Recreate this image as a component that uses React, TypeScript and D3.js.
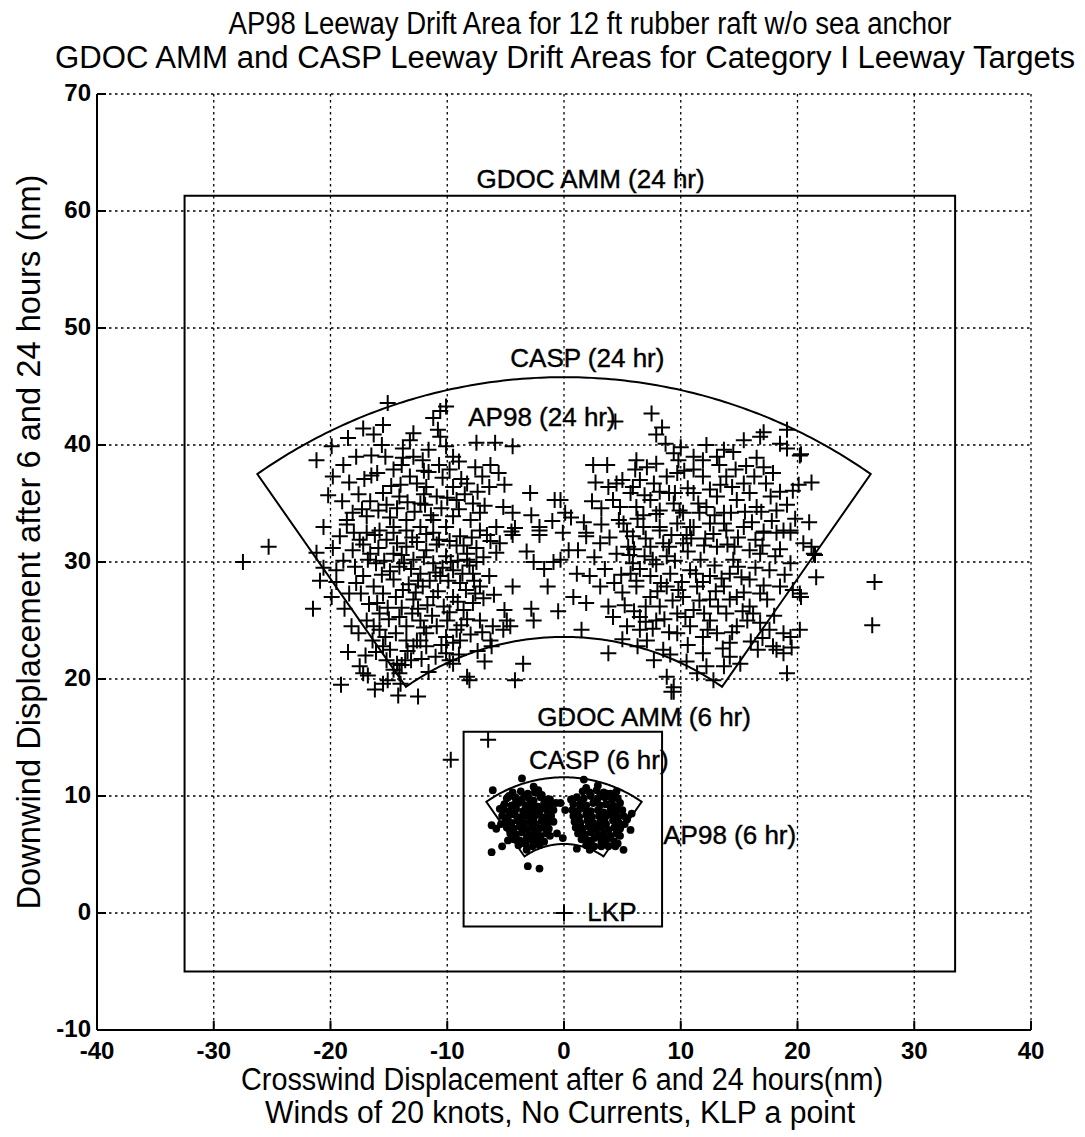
import React from 'react';
import * as d3 from 'd3';

const W = 1085;
const H = 1137;
const X_DOMAIN: [number, number] = [-40, 40];
const Y_DOMAIN: [number, number] = [-10, 70];
const X_TICKS = [-40, -30, -20, -10, 0, 10, 20, 30, 40];
const Y_TICKS = [-10, 0, 10, 20, 30, 40, 50, 60, 70];

const TITLE_1 = 'AP98 Leeway Drift Area for 12 ft rubber raft w/o sea anchor';
const TITLE_2 = 'GDOC AMM and CASP Leeway Drift Areas for Category I Leeway Targets';
const X_LABEL_1 = 'Crosswind Displacement after 6 and 24 hours(nm)';
const X_LABEL_2 = 'Winds of 20 knots, No Currents, KLP a point';
const Y_LABEL = 'Downwind Displacement after 6 and 24 hours (nm)';

// GDOC AMM rectangles [x0, x1, y0, y1]
const GDOC_24 = [-32.5, 33.5, -5, 61.3];
const GDOC_6 = [-8.6, 8.4, -1.15, 15.5];
// CASP annular sectors [inner radius, outer radius, half angle deg]
const CASP_24 = [23.6, 45.8, 35];
const CASP_6 = [5.9, 11.6, 35];

const LKP: [number, number] = [0, 0];

// AP98 24 hr drift positions (crosswind, downwind)
const AP98_24: [number, number][] = [
  [-15.1,43.6],[-15.5,41.7],[-17.2,41.4],[-16.3,40.9],[-15.6,40.0],[-12.9,41.0],[-13.2,40.4],[-11.2,42.3],[-10.6,42.9],[-10.1,43.3],
  [-10.8,41.3],[-10.6,40.7],[-10.1,39.9],[-13.8,39.7],[-19.9,39.9],[-21.2,38.7],[-18.9,38.3],[-16.5,39.1],[-13.8,38.9],[-12.9,39.0],
  [-12.1,38.7],[-16.5,37.4],[-16.0,37.6],[-14.6,37.9],[-13.9,38.3],[-11.6,37.7],[-9.8,37.9],[-8.3,36.7],[-7.6,38.1],[-7.5,40.2],
  [-5.9,40.2],[-4.4,39.9],[-6.3,38.3],[-5.6,37.6],[-5.1,36.6],[-2.9,35.9],[-0.8,35.3],[-20.2,35.7],[-18.6,33.6],[-18.1,34.2],
  [-16.9,33.9],[-15.5,35.9],[-15.2,34.9],[-14.1,35.6],[-12.6,36.7],[-11.8,36.4],[-12.3,35.0],[-10.9,35.6],[-9.5,36.4],[-9.2,35.3],
  [-7.8,35.0],[-7.2,34.2],[-5.2,34.7],[-4.4,34.2],[-2.8,34.0],[-2.1,32.7],[-4.5,32.6],[-5.8,33.0],[-13.5,33.6],[-11.2,33.6],
  [-9.5,33.9],[-14.6,33.0],
  [-25.3,31.3],[-27.5,30.0],[-21.5,26.0],[-20.6,29.5],[-19.5,29.3],[-19.5,28.3],[-18.8,26.0],[-18.2,24.5],[-17.6,23.9],[-16.3,24.5],
  [-17.8,28.2],[-18.1,31.0],[-17.5,31.9],[-18.6,33.2],[-19.2,32.2],[-16.0,26.5],[-15.8,25.6],[-16.9,25.0],[-15.5,22.8],[-14.9,22.5],
  [-15.2,21.6],[-14.3,21.3],[-14.6,20.8],[-13.9,21.2],[-13.6,21.6],[-13.1,21.6],[-12.9,22.8],[-12.6,23.3],[-17.5,21.1],[-17.2,20.5],
  [-16.8,20.3],[-19.1,19.5],[-16.2,19.1],[-15.5,19.6],[-15.1,19.9],[-14.2,18.6],[-12.5,18.5],[-14.1,20.5],[-9.8,21.6],[-9.5,21.3],
  [-10.1,22.2],[-8.3,20.2],[-8.1,19.9],[-6.8,21.5],[-6.3,23.3],[-6.2,22.8],[-4.2,19.9],[-3.5,21.3],[-2.8,26.0],[-2.6,25.0],
  [-1.4,27.9],[-0.9,30.0],[-3.2,30.9],[-2.6,30.0],[-4.4,27.9],[-4.2,32.9],[-4.4,32.3],[-2.1,33.0],[-2.1,32.3],[-5.5,31.6],
  [-5.8,30.8],[-5.1,25.9],[-4.9,25.0],[-4.6,24.5],[-6.1,24.5],[-5.2,24.2],[-7.2,32.7],[-6.6,32.3],
  [-17.2,31.5],[-16.6,30.7],[-16.1,29.9],[-15.2,31.9],[-14.6,30.7],[-14.1,29.6],[-13.5,31.3],[-12.9,30.2],[-12.3,29.0],[-11.8,31.0],
  [-11.2,29.9],[-10.6,28.8],[-10.1,30.5],[-9.5,29.3],[-8.9,28.2],[-8.3,30.2],[-7.8,29.0],[-7.2,27.9],[-17.2,28.8],[-16.3,27.9],
  [-15.5,27.3],[-14.6,28.5],[-13.8,27.6],[-12.9,26.8],[-12.1,27.9],[-11.2,27.0],[-10.3,26.2],[-9.5,27.0],[-8.6,25.9],[-7.8,26.5],
  [-7.2,25.0],[-15.8,24.2],[-14.1,25.3],[-13.5,24.5],[-12.3,25.0],[-11.8,23.9],[-10.9,24.5],[-10.1,23.6],[-9.2,24.2],[-12.3,23.3],
  [-13.5,23.3],[-11.8,22.8],[-9.5,23.1],[-8.9,23.3],[-8.3,30.7],[-12.3,33.0],[-11.2,32.5],[-10.1,33.0],[-8.9,32.2],[-13.5,32.7],
  [-14.6,32.5],[-15.8,32.7],[-16.9,32.5],
  [-16.6,35.2],[-15.9,34.4],[-14.9,33.8],[-14.3,34.6],[-13.4,35.1],[-12.8,34.3],[-11.9,34.9],[-11.4,34.0],[-10.5,34.6],[-10.0,35.5],
  [-9.0,34.5],[-8.5,35.8],[-8.0,33.6],[-7.4,36.0],[-6.8,34.8],[-6.4,36.4],
  [-16.8,30.2],[-15.9,31.2],[-15.4,30.1],[-14.3,31.6],[-13.9,30.6],[-13.1,29.4],[-12.6,31.7],[-12.0,30.4],[-11.5,28.4],[-10.9,31.5],
  [-10.4,29.5],[-9.8,31.8],[-9.1,30.1],[-8.6,31.4],[-8.1,29.7],[-7.5,31.2],[-6.9,30.4],[-6.3,31.8],
  [-17.9,29.6],[-17.4,27.3],[-16.7,26.4],[-15.1,26.1],[-14.4,27.0],[-13.3,28.1],[-12.7,27.4],[-11.7,26.3],[-10.8,27.5],[-9.9,28.4],
  [-9.1,26.6],[-8.4,27.6],[-7.7,28.4],[-6.9,26.9],[-6.4,28.8],[-6.0,27.2],
  [-16.4,23.3],[-15.3,23.6],[-14.4,23.9],[-13.0,25.6],[-12.0,24.4],[-11.3,25.4],[-10.5,22.9],[-9.8,25.7],[-8.8,24.6],[-8.0,23.8],
  [-7.4,22.4],[-7.0,24.0],[-11.0,21.9],[-12.2,21.7],[-13.4,22.4],
  [-18.4,36.8],[-17.6,35.8],[-17.1,37.1],[-14.0,36.6],[-13.2,37.3],[-10.4,37.2],[-9.0,38.6],[-8.8,37.1],[-7.0,37.3],[-11.6,39.6],
  [-9.5,39.0],[-17.8,39.0],[-18.5,40.6],[-19.8,37.3],[-20.6,33.0],[-21.2,30.8],[-19.8,31.2],[-18.9,30.1],[-18.4,27.3],[-19.9,27.0],
  [-20.9,28.4],[-17.0,22.0],[-18.5,22.3],
  [-15.6,28.9],[-14.9,29.2],[-13.7,29.9],[-12.5,28.4],[-11.0,29.1],[-9.7,30.0],[-8.7,29.0],[-7.5,30.0],[-16.2,32.3],[-13.0,32.1],
  [-11.8,32.4],[-10.7,31.9],[-9.2,31.4],[-7.9,32.1],[-15.0,25.1],[-13.9,26.1],[-12.5,26.0],[-10.0,25.0],[-8.3,25.1],[-7.6,27.3],
  [-14.8,36.5],[-12.0,37.8],[-10.7,38.3],[-15.3,39.0],[-17.3,34.5],[-18.0,32.5],[-19.0,35.2],[-16.1,22.3],[-14.0,19.6],[-11.6,20.6],
  [-9.0,22.1],[-12.0,35.8],
  [7.5,42.7],[4.4,42.0],[7.9,40.9],[8.7,40.1],[9.4,39.3],[9.8,38.7],[11.1,39.0],[11.9,38.7],[13.1,39.0],[13.7,39.6],
  [17.1,41.1],[16.8,40.7],[18.5,40.1],[19.1,39.7],[20.2,39.1],[16.5,38.9],[17.1,38.1],[17.9,37.6],[20.1,36.6],[2.5,38.3],
  [3.7,38.3],[6.2,38.7],[6.1,37.9],[7.1,38.1],[7.9,38.4],[6.5,37.0],[7.7,36.7],[8.8,37.3],[9.7,37.6],[11.1,37.9],
  [11.9,37.3],[13.9,37.3],[14.7,37.9],[15.4,36.7],[3.8,36.4],[4.5,36.7],[5.7,35.9],[2.4,35.2],[4.2,35.3],[4.8,34.7],
  [6.2,34.7],[7.4,35.3],[8.2,34.4],[9.4,35.0],[10.2,34.2],[11.1,35.9],[12.2,34.7],[13.1,35.6],[13.7,34.2],[14.8,35.3],
  [15.9,35.9],[16.5,34.7],[17.7,35.6],[18.2,34.4],[-0.3,35.3],[0.1,34.2],[1.7,33.4],[1.9,32.5],[-0.1,32.5],[5.4,32.6],
  [6.8,33.0],[8.2,32.7],[9.7,33.3],[11.1,33.0],[12.5,33.3],[13.9,32.7],[15.4,33.0],[17.1,32.6],[18.8,32.7],[19.4,32.5],
  [26.6,28.3],[26.4,24.6],[1.9,32.2],[3.1,31.6],[-0.3,30.2],[1.1,29.0],[2.2,28.8],[3.1,27.9],[1.9,26.5],[3.8,26.2],
  [4.2,25.3],[5.4,24.5],[6.5,24.2],[7.1,23.3],[7.7,21.6],[8.5,22.5],[9.7,23.9],[8.8,20.2],[9.4,18.9],[3.8,22.2],
  [11.4,20.5],[12.2,21.1],[12.8,19.9],[13.7,21.1],[11.9,22.2],[13.1,23.9],[14.2,21.9],[15.1,21.3],[14.2,23.1],[15.7,25.0],
  [16.8,24.8],[17.6,24.2],[18.8,23.9],[20.2,24.2],[19.4,23.6],[18.2,22.5],[19.1,20.5],[18.8,22.2],[17.9,22.8],[5.9,32.2],
  [4.5,30.7],[5.9,29.9],[7.4,31.3],[8.8,30.5],[10.2,31.6],[11.7,30.2],[13.1,31.3],[14.5,30.2],[15.9,31.0],[17.1,32.5],
  [18.2,32.5],[19.4,32.7],[20.5,31.6],[16.8,30.7],[17.6,29.3],[19.4,29.9],[19.6,27.6],[20.2,27.3],[21.4,30.7],[18.5,27.9],
  [17.4,26.8],[15.9,26.2],[14.8,27.0],[13.7,27.9],[12.5,26.8],[11.4,27.9],[10.2,27.0],[8.8,27.9],[7.4,27.0],[6.2,27.9],
  [5.7,29.0],[7.4,28.8],[9.1,29.0],[10.8,29.3],[12.5,28.8],[14.2,29.0],[15.9,28.5],[8.2,26.2],[9.7,25.6],[11.1,25.9],
  [12.5,25.0],[13.9,25.6],[14.8,24.5],[10.8,24.5],[11.9,23.6],[7.9,25.0],[6.5,25.3],[5.1,33.3],[8.2,33.0],[10.8,33.0],
  [13.7,33.3],
  [3.2,33.2],[3.9,32.1],[4.7,33.6],[5.5,31.3],[6.3,33.7],[7.0,32.0],[7.9,34.1],[8.5,31.6],[9.2,32.3],[9.9,34.4],
  [10.5,32.3],[11.6,34.2],[12.1,32.0],[12.9,34.0],[14.3,34.2],[14.9,32.1],[16.1,33.4],[16.9,34.3],[17.8,33.5],[18.5,31.1],
  [3.5,29.4],[4.3,28.2],[5.0,27.4],[5.6,30.6],[6.5,29.4],[6.9,30.5],[7.9,29.8],[8.3,28.2],[9.5,30.1],[10.1,28.3],
  [10.6,30.9],[11.3,29.0],[12.0,31.4],[12.9,29.7],[13.5,28.6],[14.0,31.5],[14.9,29.6],[15.4,27.4],[16.4,29.5],[17.1,28.0],
  [18.1,30.5],[18.9,28.9],
  [5.2,26.3],[6.0,25.8],[7.0,26.2],[7.6,24.3],[8.6,25.1],[9.3,26.7],[10.4,25.3],[11.6,26.7],[12.3,24.2],[13.2,26.2],
  [14.2,26.8],[15.3,25.8],[16.2,25.6],[17.0,23.5],[16.0,23.2],[13.6,22.6],[10.6,22.9],[9.1,22.1],[6.3,22.8],[5.0,23.4],
  [5.0,37.0],[5.9,36.4],[6.9,35.7],[8.2,36.0],[9.0,35.9],[10.6,36.3],[10.3,37.8],[12.5,36.2],[13.3,38.3],[14.4,36.4],
  [15.6,38.2],[16.3,37.3],[17.3,36.7],[18.5,36.0],[19.1,34.9],[19.6,36.1],[19.8,33.7],[10.0,39.8],[12.2,40.0],[8.4,41.5],
  [15.4,40.4],[14.5,39.4],[3.2,34.6],[2.7,36.8],[1.2,31.0],[0.6,33.8],[2.6,30.4],
  [6.0,31.1],[7.6,30.2],[9.0,31.3],[10.9,32.0],[12.8,32.4],[14.6,31.3],[16.4,31.9],[4.9,28.9],[6.2,28.4],[8.0,27.5],
  [9.8,27.6],[11.9,28.3],[13.0,27.5],[15.2,28.7],[16.8,27.3],[6.8,34.0],[9.5,35.9],[11.5,35.0],[13.4,36.6],[15.5,34.3],
  [17.0,31.4],[7.0,24.9],[9.0,24.0],[12.0,25.6],[14.4,24.0],[16.6,22.5],[18.0,25.4],[10.5,21.5],
  [-1.0,33.5],[0.4,31.0],[-1.7,29.4],[0.8,27.0],[-0.5,25.8],[1.5,24.2],
  [19.1,41.3],[20.3,39.2],[21.0,33.4],[21.2,31.3],[21.6,28.7],[20.3,27.0],[19.5,22.7],[21.2,36.8],[21.5,30.6],
  [-9.7,13.1],[-6.5,14.8],[9.2,18.9],[9.4,19.3],
];

// AP98 6 hr drift positions (crosswind, downwind)
const AP98_6: [number, number][] = [
  [-4.4,10.3],[-3.7,10.4],[-3.1,10.2],[-2.5,10.3],[-1.9,10.1],
  [-4.9,9.8],[-4.2,9.9],[-3.6,9.7],[-3.0,9.8],[-2.6,9.6],[-2.0,9.9],[-1.4,9.7],
  [-5.1,9.3],[-4.5,9.2],[-3.9,9.4],[-3.3,9.2],[-2.8,9.3],[-2.2,9.1],[-1.7,9.4],[-1.2,9.2],
  [-5.2,8.8],[-4.7,8.7],[-4.1,8.9],[-3.5,8.7],[-3.0,8.8],[-2.4,8.6],[-1.9,8.9],[-1.4,8.7],[-0.9,8.8],
  [-5.3,8.3],[-4.8,8.2],[-4.2,8.4],[-3.7,8.2],[-3.2,8.3],[-2.6,8.1],[-2.1,8.4],[-1.6,8.2],[-1.1,8.3],
  [-5.0,7.8],[-4.5,7.7],[-4.0,7.9],[-3.4,7.7],[-2.9,7.8],[-2.4,7.6],[-1.9,7.9],[-1.4,7.7],[-0.9,7.8],
  [-4.9,7.3],[-4.3,7.2],[-3.8,7.4],[-3.3,7.2],[-2.8,7.3],[-2.3,7.1],[-1.8,7.3],[-1.3,7.2],
  [-4.6,6.8],[-4.1,6.7],[-3.6,6.9],[-3.0,6.7],[-2.5,6.8],[-2.0,6.6],[-1.5,6.8],
  [-4.3,6.3],[-3.8,6.2],[-3.2,6.4],[-2.7,6.2],[-2.2,6.3],[-1.7,6.1],
  [-3.9,5.8],[-3.3,5.9],[-2.7,5.7],[-2.1,5.8],
  [-4.7,10.0],[-3.4,10.0],[-2.2,10.5],[-4.1,9.55],[-2.5,9.05],[-1.5,9.2],[-4.5,8.45],[-2.8,8.5],[-1.3,8.0],[-5.4,7.6],
  [-3.7,7.55],[-2.1,7.25],[-4.4,7.0],[-2.8,6.55],[-1.2,6.6],[-3.5,6.0],[-2.4,5.95],[-4.8,6.2],[-5.5,8.9],[-0.7,9.4],
  [1.6,10.4],[2.2,10.3],[2.8,10.5],[3.4,10.3],[4.0,10.2],
  [1.1,9.9],[1.7,9.8],[2.3,10.0],[2.9,9.8],[3.5,9.9],[4.1,9.7],[4.6,9.8],
  [0.8,9.3],[1.4,9.4],[1.9,9.2],[2.5,9.4],[3.1,9.2],[3.6,9.3],[4.2,9.2],[4.8,9.4],
  [0.7,8.8],[1.2,8.7],[1.8,8.9],[2.3,8.7],[2.9,8.8],[3.4,8.6],[4.0,8.9],[4.5,8.7],[5.0,8.8],
  [0.8,8.3],[1.3,8.2],[1.9,8.4],[2.4,8.2],[3.0,8.3],[3.5,8.1],[4.1,8.4],[4.6,8.2],[5.1,8.3],
  [0.9,7.8],[1.4,7.7],[2.0,7.9],[2.5,7.7],[3.1,7.8],[3.6,7.6],[4.2,7.9],[4.7,7.7],[5.2,7.6],
  [1.0,7.3],[1.6,7.2],[2.1,7.4],[2.7,7.2],[3.2,7.3],[3.8,7.1],[4.3,7.3],[4.8,7.2],
  [1.2,6.8],[1.8,6.7],[2.3,6.9],[2.9,6.7],[3.4,6.8],[4.0,6.6],[4.5,6.8],
  [1.5,6.3],[2.1,6.2],[2.6,6.4],[3.2,6.2],[3.7,6.3],[4.3,6.1],
  [1.9,5.8],[2.6,5.7],[3.2,5.9],[3.8,5.7],
  [1.9,10.7],[3.1,10.0],[4.4,10.0],[1.4,9.05],[2.8,9.5],[4.5,9.0],[1.0,8.5],[2.1,8.05],[3.8,8.4],[5.4,8.1],
  [1.2,7.5],[2.9,7.45],[4.5,7.45],[1.5,6.95],[3.1,6.5],[4.8,6.6],[2.3,6.0],[3.5,5.9],[4.6,5.95],[0.6,9.7],
  [-6.1,10.5],[-3.6,11.5],[-2.6,10.8],[1.7,11.4],[2.9,10.9],[-6.2,7.5],[-5.8,7.2],[-6.2,5.2],[-5.3,5.7],[-3.2,5.4],
  [-3.1,4.0],[-2.1,3.8],[-2.3,6.0],[1.1,5.5],[2.2,5.4],[3.2,5.7],[4.4,5.7],[5.1,5.4],[5.7,7.1],[5.4,8.0],
  [5.8,8.5],[3.7,10.2],[4.5,10.4],[-0.3,9.4],[0.1,8.8],[-1.2,9.7],[-0.6,6.8],[-0.1,6.4],[-4.8,9.9],[-5.2,9.1],
];

const LABELS: { text: string; x: number; y: number }[] = [
  { text: 'GDOC AMM (24 hr)', x: -7.5, y: 62.8 },
  { text: 'CASP (24 hr)', x: -4.6, y: 47.5 },
  { text: 'AP98 (24 hr)', x: -8.2, y: 42.4 },
  { text: 'GDOC AMM (6 hr)', x: -2.3, y: 16.8 },
  { text: 'CASP (6 hr)', x: -3.0, y: 13.1 },
  { text: 'AP98 (6 hr)', x: 8.5, y: 6.7 },
  { text: 'LKP', x: 2.0, y: 0.1 },
];

const PLOT = { left: 97, right: 1031, top: 94, bottom: 1030 };

export default function App() {
  const x = d3.scaleLinear().domain(X_DOMAIN).range([PLOT.left, PLOT.right]);
  const y = d3.scaleLinear().domain(Y_DOMAIN).range([PLOT.bottom, PLOT.top]);
  const line = d3.line<[number, number]>().x((d) => x(d[0])).y((d) => y(d[1]));

  const sector = (s: number[]) => {
    const [rIn, rOut, half] = s;
    const pts: [number, number][] = [];
    for (let a = -half; a <= half; a += 0.5) {
      const r = (a * Math.PI) / 180;
      pts.push([rOut * Math.sin(r), rOut * Math.cos(r)]);
    }
    for (let a = half; a >= -half; a -= 0.5) {
      const r = (a * Math.PI) / 180;
      pts.push([rIn * Math.sin(r), rIn * Math.cos(r)]);
    }
    return line(pts) + 'Z';
  };

  const rect = (b: number[]) =>
    line([[b[0], b[2]], [b[1], b[2]], [b[1], b[3]], [b[0], b[3]]]) + 'Z';

  const cross = (px: number, py: number, s = 8) =>
    `M${px - s},${py}H${px + s}M${px},${py - s}V${py + s}`;

  const crossPath = AP98_24.map((d) => cross(x(d[0]), y(d[1]))).join('');

  const bigFont = "'Liberation Sans Narrow', 'Arial Narrow', 'Liberation Sans', Arial, sans-serif";
  const font = "'Liberation Sans', Arial, Helvetica, sans-serif";

  return (
    <div style={{ position: 'absolute', left: 0, top: 0 }}>
      <svg width={W} height={H} viewBox={`0 0 ${W} ${H}`} style={{ display: 'block', background: '#fff' }}>
        <rect x={0} y={0} width={W} height={H} fill="#fff" />
        {/* grid */}
        <g stroke="#000" strokeWidth={1.3} strokeDasharray="2.5,3.5">
          {X_TICKS.map((t) => (
            <line key={'gx' + t} x1={x(t)} x2={x(t)} y1={PLOT.top} y2={PLOT.bottom} />
          ))}
          {Y_TICKS.map((t) => (
            <line key={'gy' + t} x1={PLOT.left} x2={PLOT.right} y1={y(t)} y2={y(t)} />
          ))}
        </g>
        {/* axes */}
        <g stroke="#000" strokeWidth={2} fill="none">
          <line x1={PLOT.left} x2={PLOT.left} y1={PLOT.top} y2={PLOT.bottom} />
          <line x1={PLOT.left} x2={PLOT.right} y1={PLOT.bottom} y2={PLOT.bottom} />
          {X_TICKS.map((t) => (
            <line key={'tx' + t} x1={x(t)} x2={x(t)} y1={PLOT.bottom} y2={PLOT.bottom - 9} />
          ))}
          {Y_TICKS.map((t) => (
            <line key={'ty' + t} x1={PLOT.left} x2={PLOT.left + 9} y1={y(t)} y2={y(t)} />
          ))}
        </g>
        {/* tick labels */}
        <g fontFamily={font} fontWeight="bold" fontSize={24} fill="#000">
          {X_TICKS.map((t) => (
            <text key={'lx' + t} x={x(t)} y={PLOT.bottom + 29} textAnchor="middle">
              {t}
            </text>
          ))}
          {Y_TICKS.map((t) => (
            <text key={'ly' + t} x={PLOT.left - 6} y={y(t)} dy="0.28em" textAnchor="end">
              {t}
            </text>
          ))}
        </g>
        {/* areas */}
        <g stroke="#000" strokeWidth={2} fill="none">
          <path d={rect(GDOC_24)} />
          <path d={rect(GDOC_6)} />
          <path d={sector(CASP_24)} />
          <path d={sector(CASP_6)} />
        </g>
        {/* AP98 points */}
        <path d={crossPath} stroke="#000" strokeWidth={2} fill="none" />
        <g fill="#000">
          {AP98_6.map((d, i) => (
            <circle key={'d' + i} cx={x(d[0])} cy={y(d[1])} r={3.9} />
          ))}
        </g>
        <path d={cross(x(LKP[0]), y(LKP[1]), 8.5)} stroke="#000" strokeWidth={2} fill="none" />
        {/* annotations */}
        <g fontFamily={font} fontSize={26} fill="#000" stroke="#000" strokeWidth={0.4}>
          {LABELS.map((l) => (
            <text key={l.text} x={x(l.x)} y={y(l.y)} dy="0.36em">
              {l.text}
            </text>
          ))}
        </g>
        {/* titles */}
        <g fontFamily={bigFont} fontSize={31} fill="#000" textAnchor="middle">
          <text x={590} y={34} textLength={723} lengthAdjust="spacingAndGlyphs">{TITLE_1}</text>
          <text x={565} y={68} textLength={1020} lengthAdjust="spacingAndGlyphs">{TITLE_2}</text>
          <text x={562} y={1090} textLength={642} lengthAdjust="spacingAndGlyphs">{X_LABEL_1}</text>
          <text x={560} y={1123} textLength={590} lengthAdjust="spacingAndGlyphs">{X_LABEL_2}</text>
        </g>
        <g fontFamily={bigFont} fontSize={33} fill="#000" textAnchor="middle">
          <text
            transform="translate(40, 542) rotate(-90)"
            x={0}
            y={0}
            textLength={735}
            lengthAdjust="spacingAndGlyphs"
          >
            {Y_LABEL}
          </text>
        </g>
      </svg>
    </div>
  );
}
